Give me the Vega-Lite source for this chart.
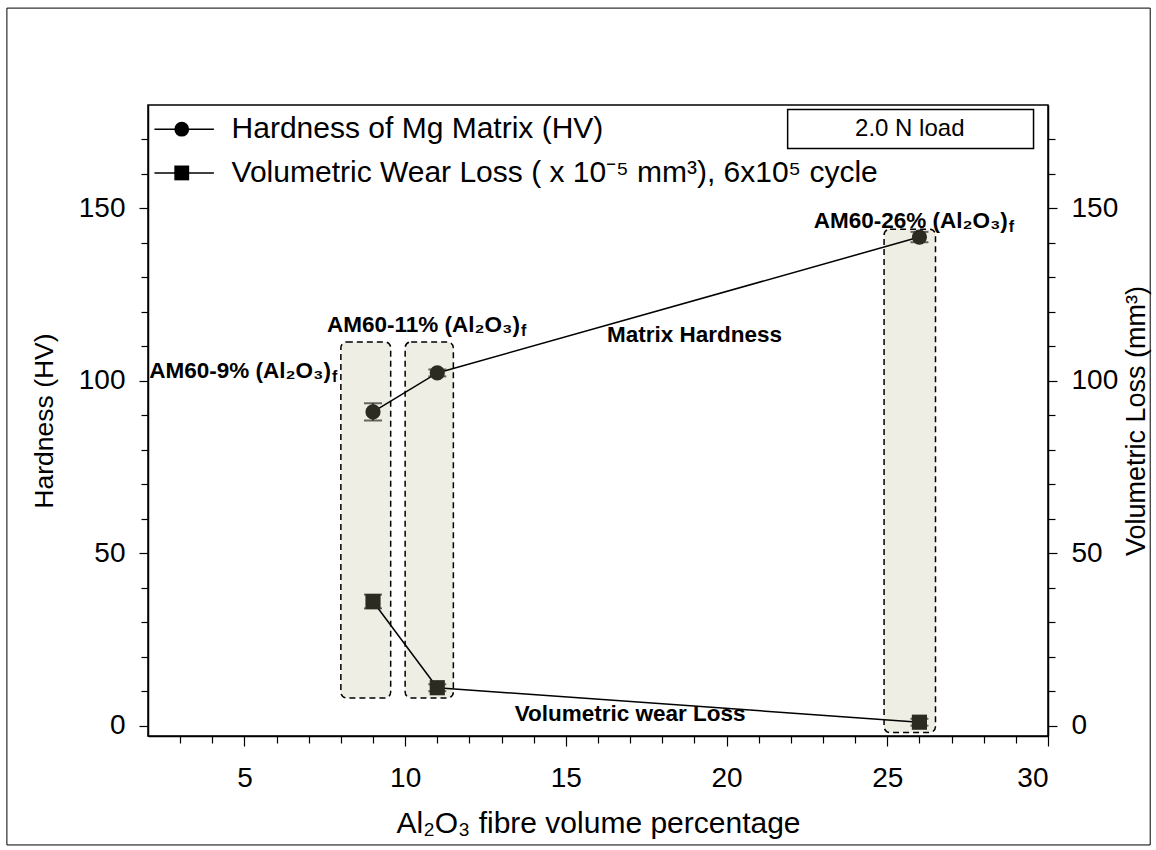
{
  "$schema": "https://vega.github.io/schema/vega-lite/v6.json",
  "width": 900,
  "height": 631,
  "autosize": {"type": "none"},
  "padding": {"left": 148, "top": 105, "right": 108, "bottom": 114},
  "background": "white",
  "config": {
    "view": {"stroke": "black", "strokeWidth": 1.5},
    "font": "Liberation Sans",
    "axis": {
      "labelFont": "Liberation Sans", "labelFontSize": 28, "labelColor": "black",
      "titleFont": "Liberation Sans", "titleFontSize": 26, "titleFontWeight": "normal", "titleColor": "black",
      "domainColor": "black", "domainWidth": 1.5, "tickColor": "black", "tickWidth": 1.2,
      "grid": false
    }
  },
  "datasets": {
    "series": [
      {"x": 9, "series": "Hardness", "value": 91, "lo": 88.5, "hi": 93.5},
      {"x": 11, "series": "Hardness", "value": 102.3, "lo": 101.3, "hi": 103.3},
      {"x": 26, "series": "Hardness", "value": 141.7, "lo": 140.2, "hi": 143.2},
      {"x": 9, "series": "Wear", "value": 36, "lo": 34, "hi": 38},
      {"x": 11, "series": "Wear", "value": 11, "lo": 10, "hi": 12},
      {"x": 26, "series": "Wear", "value": 1, "lo": 0, "hi": 2}
    ],
    "boxes": [
      {"from": 8.0, "to": 9.55, "low": 8, "high": 111.3},
      {"from": 10.0, "to": 11.5, "low": 8, "high": 111.3},
      {"from": 24.9, "to": 26.5, "low": -2, "high": 144}
    ]
  },
  "resolve": {"scale": {"y": "independent"}},
  "layer": [
    {
      "layer": [
        {
          "data": {"name": "boxes"},
          "mark": {"type": "rect", "fill": "#eeeee4", "stroke": "black", "strokeWidth": 1.5, "strokeDash": [6, 4], "cornerRadius": 6},
          "encoding": {
            "x": {"field": "from", "type": "quantitative",
                  "scale": {"domain": [2, 30], "nice": false, "zero": false},
                  "axis": {"values": [3,4,5,6,7,8,9,10,11,12,13,14,15,16,17,18,19,20,21,22,23,24,25,26,27,28,29,30],
                           "tickCount": 60, "format": "d",
                           "labelExpr": "datum.value % 5 == 0 ? datum.label : ''",
                           "labelOverlap": false, "labelBound": false,
                           "tickSize": {"condition": {"test": "datum.value % 5 == 0", "value": 10}, "value": 7},
                           "title": "Al₂O₃ fibre volume percentage", "titleFontSize": 30, "titlePadding": 16, "labelPadding": 18}},
            "x2": {"field": "to"},
            "y": {"field": "low", "type": "quantitative",
                  "scale": {"domain": [-3, 180], "nice": false, "zero": false},
                  "axis": {"orient": "left", "values": [0,10,20,30,40,50,60,70,80,90,100,110,120,130,140,150,160,170],
                           "tickCount": 60, "format": "d",
                           "labelExpr": "datum.value % 50 == 0 ? datum.label : ''",
                           "labelOverlap": false, "labelBound": false,
                           "tickSize": {"condition": {"test": "datum.value % 50 == 0", "value": 9}, "value": 7},
                           "labelPadding": 14,
                           "title": "Hardness (HV)", "titleFontSize": 26.5, "titlePadding": 20}},
            "y2": {"field": "high"}
          }
        },
        {
          "data": {"name": "series"},
          "mark": {"type": "line", "color": "black", "strokeWidth": 1.5},
          "encoding": {
            "x": {"field": "x", "type": "quantitative"},
            "y": {"field": "value", "type": "quantitative"},
            "detail": {"field": "series"}
          }
        },
        {
          "data": {"name": "series"},
          "mark": {"type": "rule", "color": "#2b2b22", "strokeWidth": 2},
          "encoding": {
            "x": {"field": "x", "type": "quantitative"},
            "y": {"field": "lo", "type": "quantitative"},
            "y2": {"field": "hi"}
          }
        },
        {
          "data": {"name": "series"},
          "mark": {"type": "tick", "orient": "horizontal", "color": "#2b2b22", "size": 18, "thickness": 2},
          "encoding": {
            "x": {"field": "x", "type": "quantitative"},
            "y": {"field": "lo", "type": "quantitative"}
          }
        },
        {
          "data": {"name": "series"},
          "mark": {"type": "tick", "orient": "horizontal", "color": "#2b2b22", "size": 18, "thickness": 2},
          "encoding": {
            "x": {"field": "x", "type": "quantitative"},
            "y": {"field": "hi", "type": "quantitative"}
          }
        },
        {
          "data": {"name": "series"},
          "mark": {"type": "point", "filled": true, "color": "#2b2b22", "opacity": 1, "size": 230},
          "encoding": {
            "x": {"field": "x", "type": "quantitative"},
            "y": {"field": "value", "type": "quantitative"},
            "shape": {"field": "series", "type": "nominal", "scale": {"domain": ["Hardness", "Wear"], "range": ["circle", "square"]}, "legend": null}
          }
        },
        {
          "data": {"values": [{}]},
          "mark": {"type": "rule", "color": "black", "strokeWidth": 1.5},
          "encoding": {"x": {"datum": 2.2}, "x2": {"datum": 4.05}, "y": {"datum": 173}}
        },
        {
          "data": {"values": [{}]},
          "mark": {"type": "point", "shape": "circle", "filled": true, "color": "black", "opacity": 1, "size": 220},
          "encoding": {"x": {"datum": 3.05}, "y": {"datum": 173}}
        },
        {
          "data": {"values": [{}]},
          "mark": {"type": "text", "align": "left", "baseline": "middle", "fontSize": 30, "font": "Liberation Sans", "color": "black"},
          "encoding": {"x": {"datum": 4.6}, "y": {"datum": 173}, "text": {"value": "Hardness of Mg Matrix (HV)"}}
        },
        {
          "data": {"values": [{}]},
          "mark": {"type": "rule", "color": "black", "strokeWidth": 1.5},
          "encoding": {"x": {"datum": 2.2}, "x2": {"datum": 4.05}, "y": {"datum": 160.3}}
        },
        {
          "data": {"values": [{}]},
          "mark": {"type": "point", "shape": "square", "filled": true, "color": "black", "opacity": 1, "size": 220},
          "encoding": {"x": {"datum": 3.05}, "y": {"datum": 160.3}}
        },
        {
          "data": {"values": [{}]},
          "mark": {"type": "text", "align": "left", "baseline": "middle", "fontSize": 30, "font": "Liberation Sans", "color": "black"},
          "encoding": {"x": {"datum": 4.6}, "y": {"datum": 160.3}, "text": {"value": "Volumetric Wear Loss ( x 10⁻⁵ mm³), 6x10⁵ cycle"}}
        },
        {
          "data": {"values": [{}]},
          "mark": {"type": "rect", "fill": "white", "stroke": "black", "strokeWidth": 1.5},
          "encoding": {"x": {"datum": 21.9}, "x2": {"datum": 29.55}, "y": {"datum": 167.4}, "y2": {"datum": 178.7}}
        },
        {
          "data": {"values": [{}]},
          "mark": {"type": "text", "align": "center", "baseline": "middle", "fontSize": 24, "font": "Liberation Sans", "color": "black"},
          "encoding": {"x": {"datum": 25.7}, "y": {"datum": 173}, "text": {"value": "2.0 N load"}}
        },
        {
          "data": {"values": [{}]},
          "mark": {"type": "text", "align": "right", "baseline": "middle", "fontSize": 22.5, "fontWeight": "bold", "font": "Liberation Sans", "color": "black"},
          "encoding": {"x": {"datum": 7.69}, "y": {"datum": 103}, "text": {"value": "AM60-9% (Al₂O₃)"}}
        },
        {
          "data": {"values": [{}]},
          "mark": {"type": "text", "align": "left", "baseline": "middle", "fontSize": 16, "fontWeight": "bold", "font": "Liberation Sans", "color": "black", "dy": 6, "dx": 1},
          "encoding": {"x": {"datum": 7.69}, "y": {"datum": 103}, "text": {"value": "f"}}
        },
        {
          "data": {"values": [{}]},
          "mark": {"type": "text", "align": "right", "baseline": "middle", "fontSize": 22.5, "fontWeight": "bold", "font": "Liberation Sans", "color": "black"},
          "encoding": {"x": {"datum": 13.57}, "y": {"datum": 116.2}, "text": {"value": "AM60-11% (Al₂O₃)"}}
        },
        {
          "data": {"values": [{}]},
          "mark": {"type": "text", "align": "left", "baseline": "middle", "fontSize": 16, "fontWeight": "bold", "font": "Liberation Sans", "color": "black", "dy": 6, "dx": 1},
          "encoding": {"x": {"datum": 13.57}, "y": {"datum": 116.2}, "text": {"value": "f"}}
        },
        {
          "data": {"values": [{}]},
          "mark": {"type": "text", "align": "center", "baseline": "middle", "fontSize": 22.5, "fontWeight": "bold", "font": "Liberation Sans", "color": "black"},
          "encoding": {"x": {"datum": 19.0}, "y": {"datum": 113.3}, "text": {"value": "Matrix Hardness"}}
        },
        {
          "data": {"values": [{}]},
          "mark": {"type": "text", "align": "right", "baseline": "middle", "fontSize": 22.5, "fontWeight": "bold", "font": "Liberation Sans", "color": "black"},
          "encoding": {"x": {"datum": 28.75}, "y": {"datum": 146.5}, "text": {"value": "AM60-26% (Al₂O₃)"}}
        },
        {
          "data": {"values": [{}]},
          "mark": {"type": "text", "align": "left", "baseline": "middle", "fontSize": 16, "fontWeight": "bold", "font": "Liberation Sans", "color": "black", "dy": 6, "dx": 1},
          "encoding": {"x": {"datum": 28.75}, "y": {"datum": 146.5}, "text": {"value": "f"}}
        },
        {
          "data": {"values": [{}]},
          "mark": {"type": "text", "align": "center", "baseline": "middle", "fontSize": 22.5, "fontWeight": "bold", "font": "Liberation Sans", "color": "black"},
          "encoding": {"x": {"datum": 17.0}, "y": {"datum": 3.5}, "text": {"value": "Volumetric wear Loss"}}
        },
        {
          "data": {"values": [{}]},
          "mark": {"type": "rect", "fill": null, "fillOpacity": 0, "stroke": "black", "strokeWidth": 1, "clip": false},
          "encoding": {"x": {"datum": -2.39}, "x2": {"datum": 33.18}, "y": {"datum": 208.1}, "y2": {"datum": -34.6}}
        }
      ]
    },
    {
      "data": {"values": [{}]},
      "mark": {"type": "rule", "opacity": 0},
      "encoding": {
        "y": {"datum": 0, "type": "quantitative",
              "scale": {"domain": [-3, 180], "nice": false, "zero": false},
              "axis": {"orient": "right", "values": [0,10,20,30,40,50,60,70,80,90,100,110,120,130,140,150,160,170],
                       "tickCount": 60, "format": "d",
                       "labelExpr": "datum.value % 50 == 0 ? datum.label : ''",
                       "labelOverlap": false,
                       "tickSize": {"condition": {"test": "datum.value % 50 == 0", "value": 9}, "value": 7},
                       "labelPadding": 14,
                       "title": "Volumetric Loss (mm³)", "titleFontSize": 27, "titleAngle": 270, "titleBaseline": "top", "titlePadding": 6}}
      }
    }
  ]
}
